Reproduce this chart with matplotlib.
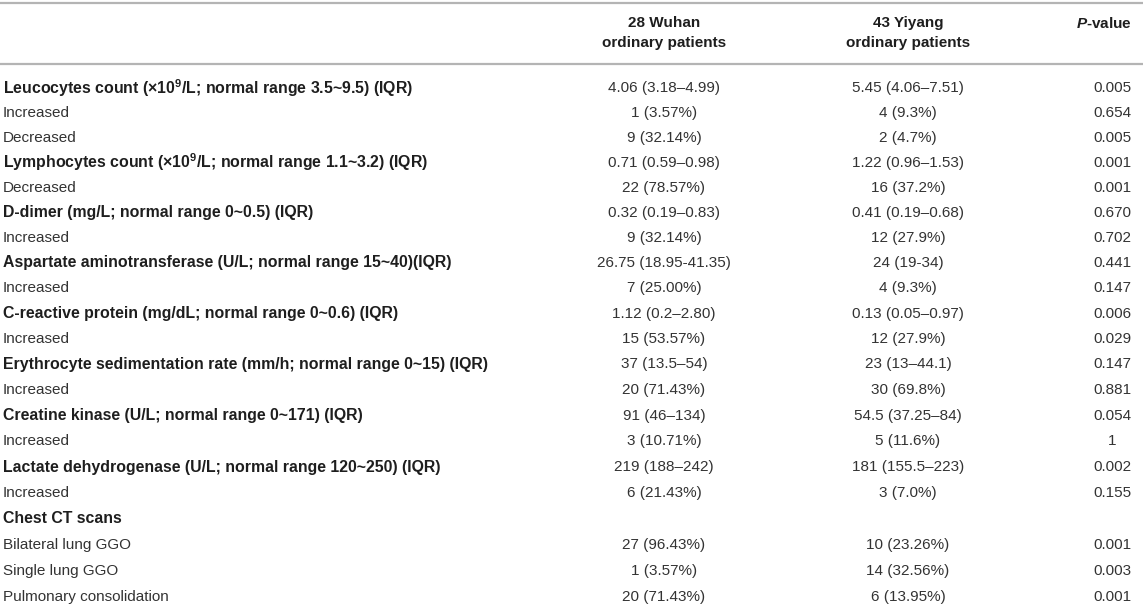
import matplotlib
matplotlib.use("Agg")
import matplotlib.pyplot as plt

# table content
row_labels = [
    r"Leucocytes count (×10$^{\mathbf{9}}$/L; normal range 3.5~9.5) (IQR)",
    "Increased",
    "Decreased",
    r"Lymphocytes count (×10$^{\mathbf{9}}$/L; normal range 1.1~3.2) (IQR)",
    "Decreased",
    "D-dimer (mg/L; normal range 0~0.5) (IQR)",
    "Increased",
    "Aspartate aminotransferase (U/L; normal range 15~40)(IQR)",
    "Increased",
    "C-reactive protein (mg/dL; normal range 0~0.6) (IQR)",
    "Increased",
    "Erythrocyte sedimentation rate (mm/h; normal range 0~15) (IQR)",
    "Increased",
    "Creatine kinase (U/L; normal range 0~171) (IQR)",
    "Increased",
    "Lactate dehydrogenase (U/L; normal range 120~250) (IQR)",
    "Increased",
    "Chest CT scans",
    "Bilateral lung GGO",
    "Single lung GGO",
    "Pulmonary consolidation",
]
row_bold = [1, 0, 0, 1, 0, 1, 0, 1, 0, 1, 0, 1, 0, 1, 0, 1, 0, 1, 0, 0, 0]

wuhan = ["4.06 (3.18–4.99)", "1 (3.57%)", "9 (32.14%)", "0.71 (0.59–0.98)",
         "22 (78.57%)", "0.32 (0.19–0.83)", "9 (32.14%)", "26.75 (18.95-41.35)",
         "7 (25.00%)", "1.12 (0.2–2.80)", "15 (53.57%)", "37 (13.5–54)",
         "20 (71.43%)", "91 (46–134)", "3 (10.71%)", "219 (188–242)",
         "6 (21.43%)", "", "27 (96.43%)", "1 (3.57%)", "20 (71.43%)"]
yiyang = ["5.45 (4.06–7.51)", "4 (9.3%)", "2 (4.7%)", "1.22 (0.96–1.53)",
          "16 (37.2%)", "0.41 (0.19–0.68)", "12 (27.9%)", "24 (19-34)",
          "4 (9.3%)", "0.13 (0.05–0.97)", "12 (27.9%)", "23 (13–44.1)",
          "30 (69.8%)", "54.5 (37.25–84)", "5 (11.6%)", "181 (155.5–223)",
          "3 (7.0%)", "", "10 (23.26%)", "14 (32.56%)", "6 (13.95%)"]
pvals = ["0.005", "0.654", "0.005", "0.001", "0.001", "0.670", "0.702",
         "0.441", "0.147", "0.006", "0.029", "0.147", "0.881", "0.054",
         "1", "0.002", "0.155", "", "0.001", "0.003", "0.001"]

header_cols = ["28 Wuhan\nordinary patients", "43 Yiyang\nordinary patients",
               r"$\bfit{P}$-value"]

plt.rcParams["font.family"] = ["Liberation Sans", "DejaVu Sans"]
plt.rcParams["mathtext.fontset"] = "custom"
plt.rcParams["mathtext.rm"] = "Liberation Sans"
plt.rcParams["mathtext.it"] = "Liberation Sans:italic"
plt.rcParams["mathtext.bf"] = "Liberation Sans:bold"
plt.rcParams["mathtext.bfit"] = "Liberation Sans:italic:bold"

W, H = 1143, 609
fig = plt.figure(figsize=(W / 100, H / 100), dpi=100)
ax = fig.add_axes([0, 0, 1, 1])
ax.set_xlim(0, W)
ax.set_ylim(H, 0)
ax.axis("off")

fs = 11
fs_bold = 11.4
col_x = [664, 908, 1112]
line_col = "#b4b4b4"
bold_col = "#1e1e1e"
text_col = "#333333"

ax.axhline(3, color=line_col, lw=1.6)
ax.axhline(64, color=line_col, lw=1.6)

ax.text(col_x[0], 33, header_cols[0], ha="center", va="center",
        fontsize=fs, fontweight="bold", color=bold_col, linespacing=1.6)
ax.text(col_x[1], 33, header_cols[1], ha="center", va="center",
        fontsize=fs, fontweight="bold", color=bold_col, linespacing=1.6)
ax.text(1132, 23, header_cols[2], ha="right", va="center",
        fontsize=fs, fontweight="bold", color=bold_col)

# row spacing grows slightly down the table
for i, lab in enumerate(row_labels):
    y = 88 + 24.75 * i + 0.035 * i * i
    if row_bold[i]:
        ax.text(3, y, lab, ha="left", va="center", fontsize=fs_bold,
                fontweight="bold", color=bold_col)
    else:
        ax.text(3, y, lab, ha="left", va="center", fontsize=fs, color=text_col)
    ax.text(col_x[0], y, wuhan[i], ha="center", va="center", fontsize=fs, color=text_col)
    ax.text(col_x[1], y, yiyang[i], ha="center", va="center", fontsize=fs, color=text_col)
    ax.text(col_x[2], y, pvals[i], ha="center", va="center", fontsize=fs, color=text_col)

fig.savefig("out.png", dpi=100, facecolor="white")
